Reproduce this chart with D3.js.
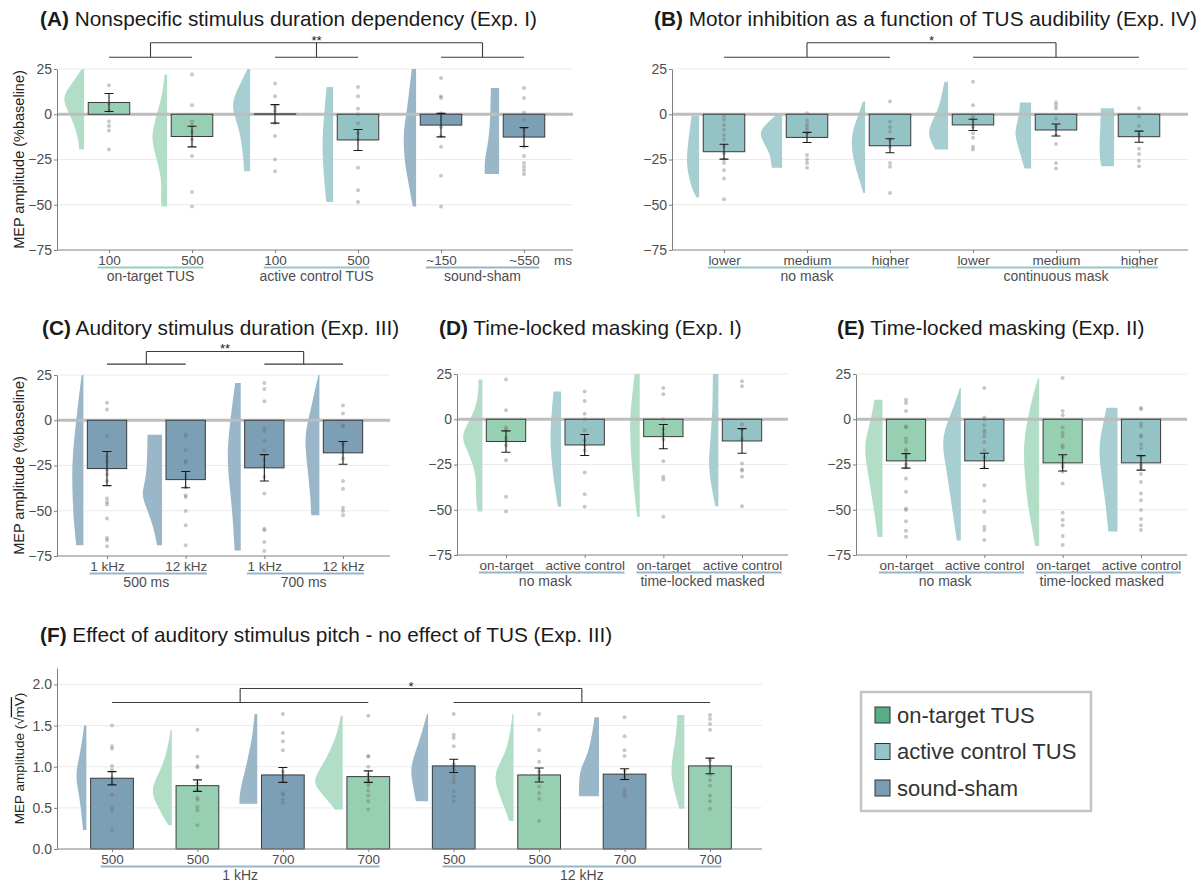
<!DOCTYPE html>
<html>
<head>
<meta charset="utf-8">
<script src="https://cdn.jsdelivr.net/npm/d3@7"></script>
<style>
  body { margin: 0; background: #fff; }
  svg text { font-family: "Liberation Sans", Arial, Helvetica, sans-serif; }
</style>
</head>
<body>
<svg id="fig" width="1198" height="884"></svg>
<script>
// ---------- condition colours ----------
const barFill    = { on: "#97cfb2", ctl: "#94c3c5", sham: "#7d9fb6" };
const violinFill = { on: "#b2ddc7", ctl: "#a7cfd2", sham: "#9ab7ca" };
const groupLine  = { on: "#95d1b4", ctl: "#95c6c8", sham: "#97b5c8" };
const legendFill = { on: "#57ad85", ctl: "#95c4c6", sham: "#7a9db4" };

// ---------- (A) duration dependency, Exp. I ----------
const aTicks = ["100", "500", "100", "500", "~150", "~550"];
const aCond  = ["on", "on", "ctl", "ctl", "sham", "sham"];
const aMean  = [6.5, -12.3, 0.2, -14.2, -6.0, -12.6];
const aSE    = [5.0, 5.7, 5.1, 5.8, 6.5, 5.2];
const aDots  = [
  [16, 6, 2, -4, -6.5, -9, -19.5],
  [22, 5, -4, -6, -10, -14, -23, -43, -51],
  [17, 10, 4, 2, -5, -12, -25, -31.5],
  [15, 10, 3, 0, -5, -10.5, -14, -29.5, -42, -48.5],
  [20, 10, 9, 0.5, -7, -12, -18, -34, -51],
  [14.5, 9, 1, -3, -8.5, -12, -18, -23, -27, -29, -31, -33]
];
const aViolins = [
  [[25, 0.1], [18, 0.5], [10, 1.0], [4, 0.85], [-3, 0.55], [-10, 0.35], [-16, 0.25], [-19.5, 0.22]],
  [[22, 0.12], [12, 0.2], [3, 0.4], [-6, 0.62], [-14, 0.72], [-22, 0.55], [-32, 0.32], [-40, 0.25], [-47, 0.3], [-51, 0.25]],
  [[25, 0.12], [18, 0.4], [10, 0.75], [3, 0.83], [-5, 0.6], [-12, 0.45], [-20, 0.35], [-27, 0.3], [-31.5, 0.28]],
  [[15, 0.3], [5, 0.38], [-5, 0.45], [-15, 0.5], [-25, 0.48], [-35, 0.42], [-45, 0.35], [-48.5, 0.3]],
  [[25, 0.2], [10, 0.35], [0, 0.45], [-10, 0.6], [-25, 0.55], [-35, 0.4], [-45, 0.25], [-51, 0.15]],
  [[14.5, 0.38], [5, 0.4], [-5, 0.42], [-15, 0.5], [-22, 0.62], [-28, 0.68], [-33, 0.66]]
];

// ---------- (B) TUS audibility, Exp. IV ----------
const bTicks = ["lower", "medium", "higher", "lower", "medium", "higher"];
const bCond  = ["ctl", "ctl", "ctl", "ctl", "ctl", "ctl"];
const bMean  = [-20.7, -12.8, -17.4, -5.9, -8.7, -12.4];
const bSE    = [4.1, 2.8, 3.9, 3.1, 3.3, 3.1];
const bDots  = [
  [-1, -3, -6, -8.5, -11.5, -14, -17.5, -21.5, -25, -27, -31, -35.5, -47],
  [0.5, -3.5, -5.5, -7, -8.5, -10.5, -22.5, -25, -27, -29.5],
  [7, -4, -7, -9.5, -14, -18, -27, -29, -43.5],
  [18, 5, -1, -2.5, -7, -10.5, -13, -18, -19.5],
  [6.5, 5, 3.3, -2.4, -7, -11.5, -16.5, -27, -30],
  [3.3, -1.3, -6.5, -11.5, -19, -22, -25.7, -28.7]
];
const bViolins = [
  [[-1, 0.35], [-10, 0.45], [-20, 0.55], [-28, 0.58], [-36, 0.45], [-42, 0.3], [-46, 0.12]],
  [[0, 0.25], [-5, 0.7], [-10, 1.1], [-17, 0.8], [-22, 0.55], [-29.5, 0.48]],
  [[7, 0.1], [0, 0.3], [-8, 0.55], [-15, 0.65], [-25, 0.55], [-35, 0.3], [-43.5, 0.08]],
  [[18, 0.17], [10, 0.3], [3, 0.45], [-4, 0.75], [-10, 0.93], [-15, 0.8], [-19.5, 0.6]],
  [[6.5, 0.52], [0, 0.55], [-8, 0.72], [-12, 0.74], [-20, 0.55], [-27, 0.38], [-30, 0.3]],
  [[3.3, 0.62], [-5, 0.63], [-12, 0.66], [-20, 0.68], [-25, 0.65], [-28.7, 0.6]]
];

// ---------- (C) auditory stimulus duration, Exp. III ----------
const cTicks = ["1 kHz", "12 kHz", "1 kHz", "12 kHz"];
const cCond  = ["sham", "sham", "sham", "sham"];
const cMean  = [-26.7, -32.8, -26.3, -18.0];
const cSE    = [9.4, 4.5, 7.3, 6.3];
const cDots  = [
  [9.6, 5.9, -8.8, -20.3, -22.7, -27.3, -29.8, -33.5, -43.3, -45.1, -46.6, -54.3, -65, -66.3, -69.6],
  [-7.9, -8.8, -16.6, -22.5, -23.6, -31.3, -37.2, -41.4, -42.4, -50.1, -58, -69],
  [20.6, 17.3, 10.5, -4.6, -5.9, -11.4, -16.6, -21.7, -25.4, -31.3, -40.5, -59.9, -60.8, -67.2, -72.2],
  [8.1, 3.7, -2.8, -3.3, -12.9, -13.8, -17.5, -21.2, -33.5, -37.8, -48.3, -50.1, -52.5]
];
const cViolins = [
  [[25, 0.08], [15, 0.2], [0, 0.35], [-22, 0.56], [-40, 0.54], [-55, 0.48], [-69, 0.35]],
  [[-8, 0.71], [-15, 0.72], [-28, 0.75], [-36, 0.88], [-42, 1.0], [-50, 0.7], [-60, 0.4], [-69, 0.25]],
  [[20.6, 0.27], [10, 0.4], [0, 0.5], [-20, 0.7], [-40, 0.5], [-60, 0.35], [-72, 0.3]],
  [[25, 0.05], [10, 0.35], [0, 0.55], [-10, 0.73], [-25, 0.6], [-40, 0.45], [-52.5, 0.4]]
];

// ---------- (D) time-locked masking, Exp. I ----------
const dTicks = ["on-target", "active control", "on-target", "active control"];
const dCond  = ["on", "ctl", "on", "ctl"];
const dMean  = [-12.3, -14.2, -9.6, -12.0];
const dSE    = [5.9, 5.8, 6.7, 6.8];
const dDots  = [
  [21.9, 5, -4.6, -5.7, -10.3, -12, -14.3, -22.6, -42.8, -50.9],
  [15.4, 10.1, 3.1, 0, -6.1, -11.6, -14.3, -17.1, -29.4, -41.4, -48.3],
  [17.3, 13.8, 0, -5.5, -8.3, -11.2, -23.2, -31.8, -33.3, -53.9],
  [21, 18.2, -2.8, -5.7, -10.7, -24.4, -27.8, -28.5, -31.8, -48]
];
const dViolins = [
  [[22, 0.19], [12, 0.2], [3, 0.45], [-5, 0.85], [-10, 1.0], [-16, 0.8], [-25, 0.45], [-33, 0.3], [-42, 0.32], [-48, 0.28], [-51, 0.22]],
  [[15.4, 0.37], [5, 0.45], [-10, 0.55], [-25, 0.45], [-38, 0.3], [-48.3, 0.15]],
  [[25, 0.25], [10, 0.4], [0, 0.48], [-15, 0.46], [-30, 0.35], [-45, 0.22], [-54, 0.12]],
  [[25, 0.27], [10, 0.28], [0, 0.32], [-15, 0.42], [-25, 0.48], [-35, 0.38], [-48, 0.15]]
];

// ---------- (E) time-locked masking, Exp. II ----------
const eTicks = ["on-target", "active control", "on-target", "active control"];
const eCond  = ["on", "ctl", "on", "ctl"];
const eMean  = [-23.0, -23.0, -24.1, -24.1];
const eSE    = [4.0, 4.2, 4.5, 4.0];
const eDots  = [
  [10.8, 9, 4.6, -3.9, -4.6, -10.7, -12.5, -16.7, -17.5, -20.8, -24.8, -26.7, -32.7, -40.1, -49.3, -50.2, -56.3, -61.6, -64.9],
  [17.3, 0.9, -0.2, -3.3, -6.1, -7.5, -9.4, -12.5, -17.1, -21.1, -26.7, -36.4, -45, -51.1, -59.4, -61.2, -66.7],
  [22.8, 4.6, 2.2, -4.6, -7.5, -9.4, -14.3, -15.6, -20.8, -24.4, -26.3, -29, -35.5, -51.7, -55.7, -58.5, -64.5, -69.5],
  [6.4, 5.5, -2.4, -3.9, -8.8, -9.7, -13.8, -16.2, -20.4, -24.8, -26.7, -30.3, -34.6, -41, -44.7, -50.2, -55.1, -58.5, -61.2]
];
const eViolins = [
  [[10.8, 0.4], [0, 0.55], [-15, 0.95], [-30, 0.7], [-45, 0.5], [-55, 0.35], [-65, 0.24]],
  [[17.3, 0.05], [5, 0.4], [-10, 0.98], [-25, 0.75], [-40, 0.55], [-55, 0.35], [-67, 0.2]],
  [[22.8, 0.05], [5, 0.5], [-15, 0.8], [-30, 0.7], [-45, 0.6], [-60, 0.35], [-70, 0.2]],
  [[6.4, 0.55], [0, 0.65], [-15, 0.95], [-30, 0.8], [-45, 0.6], [-62, 0.45]]
];

// ---------- (F) pitch effect, Exp. III (sqrt mV) ----------
const fTicks = ["500", "500", "700", "700", "500", "500", "700", "700"];
const fCond  = ["sham", "on", "sham", "on", "sham", "on", "sham", "on"];
const fMean  = [0.86, 0.77, 0.90, 0.88, 1.01, 0.90, 0.91, 1.01];
const fSE    = [0.08, 0.07, 0.09, 0.07, 0.08, 0.085, 0.065, 0.095];
const fDots  = [
  [1.5, 1.25, 1.22, 1.01, 0.96, 0.86, 0.8, 0.66, 0.51, 0.47, 0.23],
  [1.45, 1.12, 1.01, 0.99, 0.8, 0.72, 0.62, 0.6, 0.51, 0.47, 0.29],
  [1.64, 1.41, 1.31, 1.2, 0.94, 0.88, 0.68, 0.66, 0.6, 0.56],
  [1.62, 1.13, 1.12, 1.0, 0.9, 0.84, 0.8, 0.77, 0.71, 0.65, 0.58, 0.48],
  [1.64, 1.39, 1.35, 1.25, 1.03, 0.97, 0.9, 0.85, 0.81, 0.7, 0.64, 0.58],
  [1.64, 1.45, 1.2, 1.06, 0.94, 0.86, 0.76, 0.68, 0.61, 0.34],
  [1.6, 1.37, 1.2, 1.13, 0.95, 0.9, 0.85, 0.72, 0.68, 0.64],
  [1.63, 1.58, 1.52, 1.45, 1.08, 1.0, 0.9, 0.84, 0.77, 0.65, 0.58, 0.49]
];
const fViolins = [
  [[1.5, 0.1], [1.2, 0.25], [0.9, 0.51], [0.7, 0.35], [0.5, 0.25], [0.23, 0.15]],
  [[1.45, 0.05], [1.2, 0.2], [0.95, 0.5], [0.72, 1.0], [0.5, 0.6], [0.35, 0.3], [0.29, 0.15]],
  [[1.64, 0.12], [1.4, 0.2], [1.2, 0.35], [1.0, 0.5], [0.8, 0.7], [0.65, 0.8], [0.55, 0.8]],
  [[1.62, 0.08], [1.4, 0.25], [1.2, 0.55], [1.0, 0.95], [0.85, 1.3], [0.75, 1.2], [0.6, 0.7], [0.48, 0.35]],
  [[1.64, 0.05], [1.3, 0.4], [1.0, 0.82], [0.8, 0.7], [0.58, 0.55]],
  [[1.64, 0.05], [1.3, 0.2], [1.1, 0.5], [0.9, 0.9], [0.7, 0.7], [0.5, 0.4], [0.34, 0.2]],
  [[1.6, 0.2], [1.4, 0.3], [1.15, 0.5], [1.0, 0.8], [0.85, 0.9], [0.64, 0.9]],
  [[1.63, 0.32], [1.4, 0.35], [1.0, 0.62], [0.8, 0.55], [0.49, 0.23]]
];

// ---------- legend ----------
const legendKeys   = ["on", "ctl", "sham"];
const legendLabels = ["on-target TUS", "active control TUS", "sound-sham"];

// ---------- drawing ----------
const svg = d3.select("#fig");
const defs = svg.append("defs");
const pctFmt = d => (d < 0 ? "\u2212" + Math.abs(d) : String(d));

function drawPanel(p) {
  const g = svg.append("g");
  const n = p.mean.length;
  const x = d3.scalePoint().domain(d3.range(n)).range(p.cats);
  const step = x.step();
  const y = d3.scaleLinear().domain(p.yDomain).range(p.yPix);
  const [xl, xr] = p.xAxis;
  const yTop = y(p.yDomain[1]), yBot = y(p.yDomain[0]);

  const clipId = "clip" + p.id;
  defs.append("clipPath").attr("id", clipId).append("rect")
    .attr("x", xl).attr("y", yTop).attr("width", xr - xl).attr("height", yBot - yTop);

  // horizontal grid
  g.append("g").selectAll("line").data(p.grid).join("line")
    .attr("x1", xl).attr("x2", xr).attr("y1", d => y(d)).attr("y2", d => y(d))
    .attr("stroke", "#ebebeb").attr("stroke-width", 1);

  // half violins, flat side toward the bar
  const W = 0.26 * step;
  const vg = g.append("g").attr("clip-path", `url(#${clipId})`);
  p.violins.forEach((prof, i) => {
    const x0 = x(i) - 0.3 * step;
    const area = d3.area().curve(d3.curveBasis)
      .y(d => y(d[0])).x0(x0).x1(d => x0 - d[1] * W);
    vg.append("path").attr("d", area(prof)).attr("fill", violinFill[p.cond[i]]);
  });

  // baseline reference
  if (p.zero) {
    g.append("line").attr("x1", xl).attr("x2", xr).attr("y1", y(0)).attr("y2", y(0))
      .attr("stroke", "#bdbdbd").attr("stroke-width", 3);
  }

  // mean bars
  const bw = 0.5 * step;
  g.append("g").selectAll("rect").data(p.mean).join("rect")
    .attr("x", (d, i) => x(i) - bw / 2).attr("width", bw)
    .attr("y", d => y(Math.max(0, d)))
    .attr("height", d => Math.abs(y(d) - y(0)))
    .attr("fill", (d, i) => barFill[p.cond[i]])
    .attr("stroke", "#3a3a3a").attr("stroke-width", 1);

  // individual participants
  const pts = p.dots.flatMap((arr, i) => arr.map(v => ({ i, v })));
  g.append("g").selectAll("circle").data(pts).join("circle")
    .attr("cx", d => x(d.i)).attr("cy", d => y(d.v)).attr("r", 2)
    .attr("fill", "#6f6f6f").attr("fill-opacity", 0.38);

  // standard-error bars
  const eg = g.append("g").attr("stroke", "#1a1a1a").attr("stroke-width", 1.1).attr("fill", "none");
  p.mean.forEach((m, i) => {
    const lo = y(m - p.se[i]), hi = y(m + p.se[i]), cx = x(i), c = 4.5;
    eg.append("path").attr("d",
      `M${cx - c},${hi}H${cx + c}M${cx},${hi}V${lo}M${cx - c},${lo}H${cx + c}`);
  });

  // y axis
  const ya = g.append("g").attr("transform", `translate(${xl},0)`)
    .call(d3.axisLeft(y).tickValues(p.yTicks).tickSize(3).tickSizeOuter(0)
      .tickPadding(2).tickFormat(p.yFmt));
  ya.select(".domain").attr("stroke", "#808080");
  ya.selectAll(".tick line").attr("stroke", "#808080");
  ya.selectAll(".tick text").attr("fill", "#4d4d4d").style("font-size", "14px");

  // x axis
  g.append("line").attr("x1", xl).attr("x2", xr).attr("y1", yBot).attr("y2", yBot)
    .attr("stroke", "#808080").attr("stroke-width", 1);
  const xa = g.append("g").attr("transform", `translate(0,${yBot})`)
    .call(d3.axisBottom(x).tickSize(3).tickSizeOuter(0).tickPadding(2)
      .tickFormat(i => p.ticks[i]));
  xa.select(".domain").remove();
  xa.selectAll(".tick line").attr("stroke", "#808080");
  xa.selectAll(".tick text").attr("fill", "#4d4d4d").style("font-size", "13.5px");
  const tw = xa.selectAll(".tick text").nodes().map(t => t.getComputedTextLength());

  // condition groups under the axis
  p.groups.forEach(([a, b, label, key]) => {
    g.append("line")
      .attr("x1", x(a) - tw[a] / 2).attr("x2", x(b) + tw[b] / 2)
      .attr("y1", yBot + 17.5).attr("y2", yBot + 17.5)
      .attr("stroke", groupLine[key]).attr("stroke-width", 2);
    g.append("text").attr("x", (x(a) + x(b)) / 2).attr("y", yBot + 31)
      .attr("text-anchor", "middle").attr("fill", "#4d4d4d")
      .style("font-size", "14px").text(label);
  });

  if (p.unit) {
    g.append("text").attr("x", xr - 10).attr("y", yBot + 15)
      .attr("text-anchor", "middle").attr("fill", "#4d4d4d")
      .style("font-size", "13.5px").text(p.unit);
  }

  // significance brackets
  if (p.bracket) {
    const { pairs, levels, label } = p.bracket;
    const y1 = y(levels[0]), y2 = y(levels[1]);
    const bg = g.append("g").attr("stroke", "#3a3a3a").attr("stroke-width", 1.1).attr("fill", "none");
    const mids = pairs.map(([a, b]) => (x(a) + x(b)) / 2);
    pairs.forEach(([a, b], k) => {
      bg.append("path").attr("d", `M${x(a)},${y1}H${x(b)}M${mids[k]},${y1}V${y2}`);
    });
    bg.append("path").attr("d", `M${mids[0]},${y2}H${mids[mids.length - 1]}`);
    g.append("text").attr("x", (mids[0] + mids[mids.length - 1]) / 2).attr("y", y2 + 2)
      .attr("text-anchor", "middle").attr("fill", "#222").style("font-size", "13px").text(label);
  }

  // panel title
  const t = g.append("text").attr("x", p.title[0]).attr("y", p.title[1])
    .attr("fill", "#1a1a1a").style("font-size", "20.8px");
  t.append("tspan").attr("font-weight", "bold").text(p.title[2]);
  t.append("tspan").text(" " + p.title[3]);

  // y title
  if (p.ytitle) {
    const yt = g.append("text")
      .attr("transform", `translate(19,${(yTop + yBot) / 2}) rotate(-90)`)
      .attr("text-anchor", "middle").attr("dy", "0.35em")
      .attr("fill", "#222").style("font-size", p.ytitleSize || "14.5px");
    p.ytitle(yt);
  }
}

const pctTitle = sel => sel.text("MEP amplitude (%baseline)");
const sqrtTitle = sel => {
  sel.append("tspan").text("MEP amplitude (\u221A");
  sel.append("tspan").style("text-decoration", "overline").text("mV");
  sel.append("tspan").text(")");
};

const pctAxis = { yDomain: [-75, 25], yTicks: [25, 0, -25, -50, -75], grid: [25, -25, -50], yFmt: pctFmt, zero: true };

drawPanel(Object.assign({}, pctAxis, {
  id: "A", cats: [109, 524], xAxis: [57, 573], yPix: [250, 69],
  ticks: aTicks, cond: aCond, mean: aMean, se: aSE, dots: aDots, violins: aViolins,
  groups: [[0, 1, "on-target TUS", "on"], [2, 3, "active control TUS", "ctl"], [4, 5, "sound-sham", "sham"]],
  bracket: { pairs: [[0, 1], [2, 3], [4, 5]], levels: [31.5, 39.5], label: "**" },
  unit: "ms",
  title: [40, 26, "(A)", "Nonspecific stimulus duration dependency (Exp. I)"], ytitle: pctTitle
}));

drawPanel(Object.assign({}, pctAxis, {
  id: "B", cats: [724, 1139], xAxis: [672, 1188], yPix: [250, 69],
  ticks: bTicks, cond: bCond, mean: bMean, se: bSE, dots: bDots, violins: bViolins,
  groups: [[0, 2, "no mask", "ctl"], [3, 5, "continuous mask", "ctl"]],
  bracket: { pairs: [[0, 2], [3, 5]], levels: [31.5, 39.5], label: "*" },
  title: [654, 26, "(B)", "Motor inhibition as a function of TUS audibility (Exp. IV)"]
}));

drawPanel(Object.assign({}, pctAxis, {
  id: "C", cats: [107, 343], xAxis: [57, 390], yPix: [556, 375],
  ticks: cTicks, cond: cCond, mean: cMean, se: cSE, dots: cDots, violins: cViolins,
  groups: [[0, 1, "500 ms", "sham"], [2, 3, "700 ms", "sham"]],
  bracket: { pairs: [[0, 1], [2, 3]], levels: [31, 38], label: "**" },
  title: [42, 335, "(C)", "Auditory stimulus duration (Exp. III)"], ytitle: pctTitle
}));

drawPanel(Object.assign({}, pctAxis, {
  id: "D", cats: [506, 742], xAxis: [457, 788], yPix: [555, 374],
  ticks: dTicks, cond: dCond, mean: dMean, se: dSE, dots: dDots, violins: dViolins,
  groups: [[0, 1, "no mask", "sham"], [2, 3, "time-locked masked", "sham"]],
  title: [439, 335, "(D)", "Time-locked masking (Exp. I)"]
}));

drawPanel(Object.assign({}, pctAxis, {
  id: "E", cats: [906, 1141], xAxis: [856, 1187], yPix: [555, 374],
  ticks: eTicks, cond: eCond, mean: eMean, se: eSE, dots: eDots, violins: eViolins,
  groups: [[0, 1, "no mask", "sham"], [2, 3, "time-locked masked", "sham"]],
  title: [837, 335, "(E)", "Time-locked masking (Exp. II)"]
}));

drawPanel({
  id: "F", cats: [112, 710], xAxis: [57, 762], yPix: [849, 668],
  yDomain: [0, 2.2], yTicks: [0, 0.5, 1, 1.5, 2], grid: [0.5, 1, 1.5, 2],
  yFmt: d3.format(".1f"), zero: false,
  ticks: fTicks, cond: fCond, mean: fMean, se: fSE, dots: fDots, violins: fViolins,
  groups: [[0, 3, "1 kHz", "sham"], [4, 7, "12 kHz", "sham"]],
  bracket: { pairs: [[0, 3], [4, 7]], levels: [1.78, 1.95], label: "*" },
  title: [40, 642, "(F)", "Effect of auditory stimulus pitch - no effect of TUS (Exp. III)"],
  ytitle: sqrtTitle, ytitleSize: "13.5px"
});

// legend
const lg = svg.append("g");
lg.append("rect").attr("x", 861).attr("y", 692).attr("width", 230).attr("height", 119)
  .attr("fill", "#fff").attr("stroke", "#c4c4c4").attr("stroke-width", 2.5);
const ly = d3.scalePoint().domain(legendKeys).range([715, 788]);
lg.selectAll("rect.sw").data(legendKeys).join("rect").attr("class", "sw")
  .attr("x", 875).attr("y", d => ly(d) - 8).attr("width", 15).attr("height", 16)
  .attr("fill", d => legendFill[d]).attr("stroke", "#333").attr("stroke-width", 1);
lg.selectAll("text").data(legendKeys).join("text")
  .attr("x", 897).attr("y", d => ly(d)).attr("dy", "0.36em")
  .attr("fill", "#333").style("font-size", "22px")
  .text((d, i) => legendLabels[i]);
</script>
</body>
</html>
